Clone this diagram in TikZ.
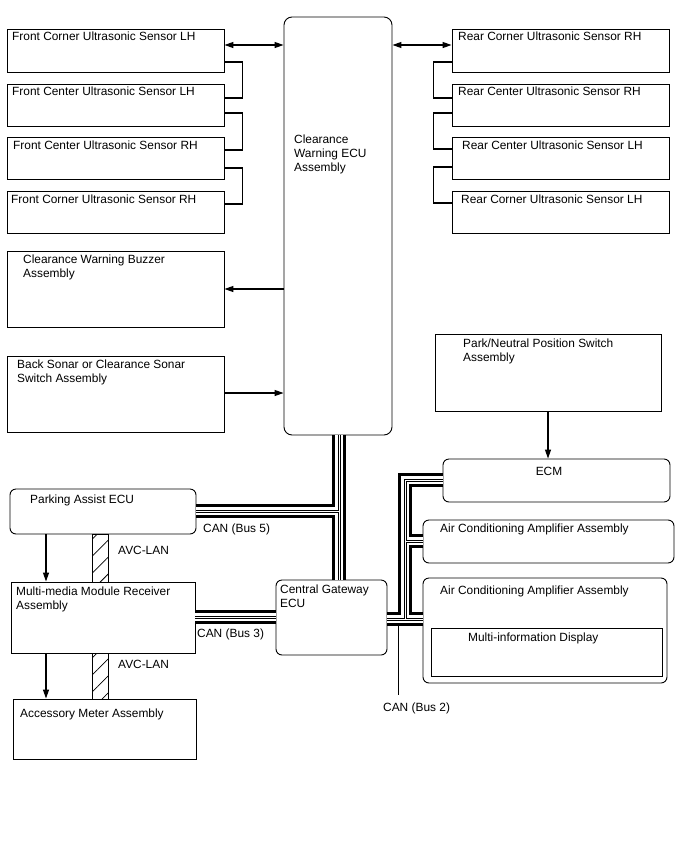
\documentclass[tikz,border=0pt]{standalone}
\usepackage{fontspec}
\setmainfont{Liberation Sans}
\usetikzlibrary{arrows.meta,fit,patterns.meta}
\begin{document}
\begin{tikzpicture}[x=1pt,y=-1pt,
  box/.style={draw, line width=0.9pt, inner sep=0pt},
  rbox/.style={box, rounded corners=6pt},
  txt/.style={anchor=north west, inner sep=0pt, align=left, font=\fontsize{11.9}{13.8}\selectfont},
  link/.style={line width=1.2pt},
  arr/.style={link, -{Triangle[length=9pt,width=6pt]}},
  darr/.style={link, {Triangle[length=9pt,width=6pt]}-{Triangle[length=9pt,width=6pt]}},
  hatch/.style={box, pattern={Lines[angle=45,distance=12pt,line width=0.8pt]}},
]
\useasboundingbox (0,0) rectangle (688,852);

% ---- boxes ----
\node[box, rounded corners=8pt, fit={(284,17) (392,435)}] (ecu) {};
\node[txt] (ecut) at (294,135) {Clearance\\Warning ECU\\Assembly};

\node[box, fit={(7,29) (224,72)}] (fcl) {};
\node[txt] (fclt) at (12,32) {Front Corner Ultrasonic Sensor LH};
\node[box, fit={(7,84) (224,126)}] (fcel) {};
\node[txt] (fcelt) at (12,87) {Front Center Ultrasonic Sensor LH};
\node[box, fit={(7,137) (224,179)}] (fcer) {};
\node[txt] (fcert) at (13,141) {Front Center Ultrasonic Sensor RH};
\node[box, fit={(7,191) (224,233)}] (fcr) {};
\node[txt] (fcrt) at (11,195) {Front Corner Ultrasonic Sensor RH};

\node[box, fit={(452,29) (669,72)}] (rcr) {};
\node[txt] (rcrt) at (458,32) {Rear Corner Ultrasonic Sensor RH};
\node[box, fit={(452,84) (669,126)}] (rcer) {};
\node[txt] (rcert) at (458,87) {Rear Center Ultrasonic Sensor RH};
\node[box, fit={(452,137) (669,179)}] (rcel) {};
\node[txt] (rcelt) at (462,141) {Rear Center Ultrasonic Sensor LH};
\node[box, fit={(452,191) (669,233)}] (rcl) {};
\node[txt] (rclt) at (461,195) {Rear Corner Ultrasonic Sensor LH};

\node[box, fit={(7,251) (224,327)}] (buz) {};
\node[txt] (buzt) at (23,255) {Clearance Warning Buzzer\\Assembly};
\node[box, fit={(7,356) (224,432)}] (son) {};
\node[txt] (sont) at (17,360) {Back Sonar or Clearance Sonar\\Switch Assembly};

\node[box, fit={(435,334) (661,411)}] (pns) {};
\node[txt] (pnst) at (463,339) {Park/Neutral Position Switch\\Assembly};

\node[rbox, fit={(443,459) (670,502)}] (ecm) {};
\node[txt, anchor=north] (ecmt) at (549,467) {ECM};
\node[rbox, fit={(423,520) (674,563)}] (ac1) {};
\node[txt] (ac1t) at (440,524) {Air Conditioning Amplifier Assembly};
\node[rbox, fit={(423,578) (667,683)}] (ac2) {};
\node[txt] (ac2t) at (440,586) {Air Conditioning Amplifier Assembly};
\node[box, fit={(431,628) (662,676)}] (mid) {};
\node[txt] (midt) at (468,633) {Multi-information Display};

\node[rbox, fit={(10,489) (196,534)}] (pa) {};
\node[txt] (pat) at (30,495) {Parking Assist ECU};
\node[box, fit={(11,582) (195,653)}] (mm) {};
\node[txt] (mmt) at (16,587) {Multi-media Module Receiver\\Assembly};
\node[box, fit={(13,699) (196,759)}] (acc) {};
\node[txt] (acct) at (20,709) {Accessory Meter Assembly};

\node[rbox, fit={(276,580) (387,655)}] (gw) {};
\node[txt] (gwt) at (280,585) {Central Gateway\\ECU};

% ---- AVC-LAN ----
\node[hatch, fit={(92,534) (108,582)}] (avc1) {};
\node[hatch, fit={(92,653) (108,699)}] (avc2) {};
\node[txt] (avc1t) at (118,546) {AVC-LAN};
\node[txt] (avc2t) at (118,660) {AVC-LAN};

% ---- CAN labels ----
\node[txt] (can5) at (203,524) {CAN (Bus 5)};
\node[txt] (can3) at (197,629) {CAN (Bus 3)};
\node[txt] (can2) at (383,703) {CAN (Bus 2)};

% ---- buses ----
\coordinate (j5) at (339,511);
\coordinate (j2) at (405,619);
\coordinate (j2a) at (405,541);
\coordinate (j2b) at (405,480);
\foreach \w/\c in {14/black,8.5/white,3/black,1/white}{
  \draw[line width=\w pt, draw=\c] (ecu.south -| 339,0) -- (gw.north -| 339,0);
  \draw[line width=\w pt, draw=\c] (pa.east |- j5) -- (j5);
  \draw[line width=\w pt, draw=\c] (mm.east |- 0,617) -- (gw.west |- 0,617);
  \draw[line width=\w pt, draw=\c] (gw.east |- j2) -- (ac2.west |- j2);
  \draw[line width=\w pt, draw=\c] (j2) -- (j2b) -- (ecm.west |- j2b);
  \draw[line width=\w pt, draw=\c] (j2a) -- (ac1.west |- j2a);
}
\coordinate (c2a) at (398,626);
\coordinate (c2b) at (398,695);
\draw[line width=0.9pt] (c2a) -- (c2b);

% ---- sensor links ----
\draw[darr] (fcl.east |- 0,45) -- (ecu.west |- 0,45);
\draw[darr] (ecu.east |- 0,45) -- (rcr.west |- 0,45);
\draw[link] (fcl.east |- 0,62) -- ++(18,0) |- (fcel.east |- 0,98);
\draw[link] (fcel.east |- 0,113) -- ++(18,0) |- (fcer.east |- 0,150);
\draw[link] (fcer.east |- 0,168) -- ++(18,0) |- (fcr.east |- 0,204);
\draw[link] (rcr.west |- 0,62) -- ++(-18,0) |- (rcer.west |- 0,98);
\draw[link] (rcer.west |- 0,113) -- ++(-18,0) |- (rcel.west |- 0,149);
\draw[link] (rcel.west |- 0,167) -- ++(-18,0) |- (rcl.west |- 0,203);

% ---- other arrows ----
\draw[arr] (ecu.west |- 0,289) -- (buz.east |- 0,289);
\draw[arr] (son.east |- 0,393) -- (ecu.west |- 0,393);
\draw[arr] (pns.south -| 548,0) -- (ecm.north -| 548,0);
\draw[arr] (pa.south -| 46,0) -- (mm.north -| 46,0);
\draw[arr] (mm.south -| 46,0) -- (acc.north -| 46,0);
\end{tikzpicture}
\end{document}
